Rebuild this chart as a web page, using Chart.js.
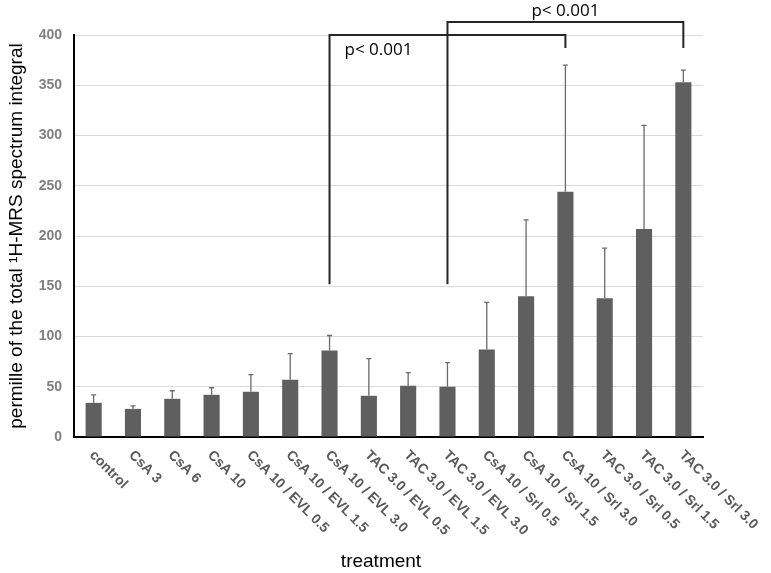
<!DOCTYPE html>
<html lang="en">
<head>
<meta charset="UTF-8">
<title>1H-MRS spectrum integral by treatment</title>
<script src="https://cdn.jsdelivr.net/npm/chart.js"></script>
<style>
  html, body { margin: 0; padding: 0; background: #fff; }
  #wrap { width: 771px; height: 573px; }
</style>
</head>
<body>
<div id="wrap"><canvas id="chart"></canvas></div>
<script>
// treatment groups
const treatments = [
  'control', 'CsA 3', 'CsA 6', 'CsA 10',
  'CsA 10 / EVL 0.5', 'CsA 10 / EVL 1.5', 'CsA 10 / EVL 3.0',
  'TAC 3.0 / EVL 0.5', 'TAC 3.0 / EVL 1.5', 'TAC 3.0 / EVL 3.0',
  'CsA 10 / Srl 0.5', 'CsA 10 / Srl 1.5', 'CsA 10 / Srl 3.0',
  'TAC 3.0 / Srl 0.5', 'TAC 3.0 / Srl 1.5', 'TAC 3.0 / Srl 3.0'
];
// mean values (permille)
const means = [34, 28, 38, 42, 45, 57, 86, 41, 51, 50, 87, 140, 244, 138, 207, 353];
// upper error (SD)
const errors = [8, 3, 8, 7, 17, 26, 15, 37, 13, 24, 47, 76, 126, 50, 103, 12];
const yTicks = [0, 50, 100, 150, 200, 250, 300, 350, 400];

// significance brackets: from group, to group, bracket height, foot levels, label
const bracketFrom = [6, 9];
const bracketTo = [12, 15];
const bracketTop = [400, 413];
const bracketFootLeft = [152, 152];
const bracketFootRight = [387, 387];
const bracketLabel = ['p< 0.001', 'p< 0.001'];

const errorBars = {
  id: 'errorBars',
  afterDatasetsDraw(chart) {
    const ctx = chart.ctx;
    const y = chart.scales.y;
    const meta = chart.getDatasetMeta(0);
    ctx.save();
    ctx.strokeStyle = '#6a6a6a';
    ctx.lineWidth = 1.3;
    meta.data.forEach((bar, i) => {
      const top = y.getPixelForValue(means[i] + errors[i]);
      ctx.beginPath();
      ctx.moveTo(bar.x, bar.y);
      ctx.lineTo(bar.x, top);
      ctx.moveTo(bar.x - 2.5, top);
      ctx.lineTo(bar.x + 2.5, top);
      ctx.stroke();
    });
    ctx.restore();
  }
};

const extras = {
  id: 'extras',
  afterDraw(chart) {
    const ctx = chart.ctx;
    const x = chart.scales.x;
    const y = chart.scales.y;
    ctx.save();

    // rotated category labels
    ctx.fillStyle = '#5a5a5a';
    ctx.font = 'bold 14px "Liberation Sans", Arial, sans-serif';
    ctx.textAlign = 'left';
    ctx.textBaseline = 'top';
    treatments.forEach((t, i) => {
      const px = x.getPixelForTick(i);
      ctx.save();
      ctx.translate(px + 3, y.bottom + 11);
      ctx.rotate(Math.PI / 4);
      ctx.fillText(t, 0, 0);
      ctx.restore();
    });

    // x axis title
    ctx.fillStyle = '#000';
    ctx.font = '19px "Liberation Sans", Arial, sans-serif';
    ctx.textAlign = 'center';
    ctx.textBaseline = 'middle';
    ctx.fillText('treatment', 381, 562);

    // significance brackets
    ctx.strokeStyle = '#262626';
    ctx.lineWidth = 2;
    ctx.font = '17px "Open Sans", "Liberation Sans", sans-serif';
    bracketFrom.forEach((from, k) => {
      const x1 = x.getPixelForTick(from);
      const x2 = x.getPixelForTick(bracketTo[k]);
      const yt = y.getPixelForValue(bracketTop[k]);
      ctx.beginPath();
      ctx.moveTo(x1, y.getPixelForValue(bracketFootLeft[k]));
      ctx.lineTo(x1, yt);
      ctx.lineTo(x2, yt);
      ctx.lineTo(x2, y.getPixelForValue(bracketFootRight[k]));
      ctx.stroke();
      ctx.fillStyle = '#000';
      if (k === 0) {
        ctx.textAlign = 'left';
        ctx.fillText(bracketLabel[k], x1 + 15, yt + 15);
      } else {
        ctx.textAlign = 'center';
        ctx.fillText(bracketLabel[k], (x1 + x2) / 2, yt - 11);
      }
    });
    ctx.restore();
  }
};

new Chart(document.getElementById('chart'), {
  type: 'bar',
  data: {
    labels: treatments,
    datasets: [{
      data: means,
      backgroundColor: '#5f5f5f',
      categoryPercentage: 1,
      barPercentage: 0.41
    }]
  },
  options: {
    responsive: true,
    maintainAspectRatio: false,
    animation: false,
    layout: { padding: { top: 35, right: 68, bottom: 0, left: 0 } },
    plugins: {
      legend: { display: false },
      tooltip: { enabled: false }
    },
    scales: {
      x: {
        ticks: { display: false },
        grid: { display: false },
        border: { color: '#000', width: 2 },
        afterFit(scale) { scale.height = 136; }
      },
      y: {
        min: 0,
        max: 400,
        afterBuildTicks(scale) { scale.ticks = yTicks.map(v => ({ value: v })); },
        ticks: {
          color: '#808080',
          font: { family: '"Liberation Sans", Arial, sans-serif', size: 14, weight: 'bold' },
          padding: 12
        },
        grid: { color: '#d9d9d9', drawTicks: false },
        border: { color: '#000', width: 2 },
        title: {
          display: true,
          text: 'permille of the total \u00B9H-MRS spectrum integral',
          color: '#000',
          font: { family: '"Liberation Sans", Arial, sans-serif', size: 19 },
          padding: { top: 5, bottom: 0 }
        },
        afterFit(scale) { scale.width = 74; }
      }
    }
  },
  plugins: [errorBars, extras]
});
</script>
</body>
</html>
